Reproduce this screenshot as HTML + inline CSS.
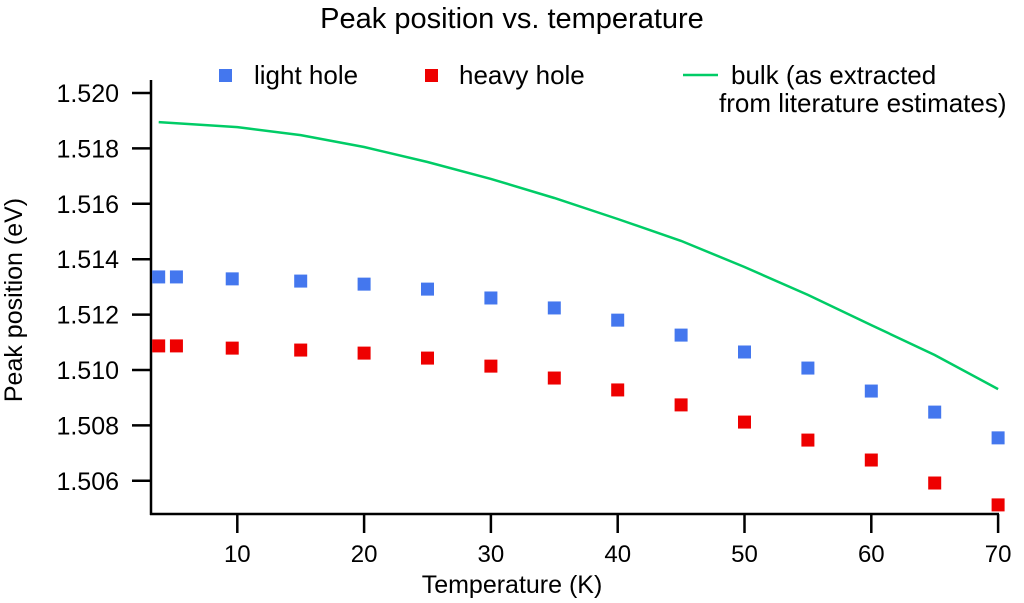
<!DOCTYPE html>
<html><head><meta charset="utf-8"><style>
body{margin:0;background:#fff;}
svg{display:block;font-family:"Liberation Sans",Arial,sans-serif;}
</style></head><body>
<svg id="chart" width="1024" height="603" xmlns="http://www.w3.org/2000/svg">
<text x="512" y="28" font-size="29" text-anchor="middle">Peak position vs. temperature</text>
<g id="legend">
<rect x="219" y="69" width="13" height="13" fill="#4477ee"/>
<text x="254" y="84" font-size="26">light hole</text>
<rect x="425" y="69" width="13" height="13" fill="#ee0000"/>
<text x="459" y="84" font-size="26">heavy hole</text>
<line x1="683" y1="75" x2="718" y2="75" stroke="#00cc66" stroke-width="2.5"/>
<text x="731" y="84" font-size="26">bulk (as extracted</text>
<text x="719" y="112" font-size="26">from literature estimates)</text>
</g>
<g id="axes"></g>
<g id="marks"></g>
<text x="512" y="593" font-size="25" text-anchor="middle">Temperature (K)</text>
<text transform="translate(22,300) rotate(-90)" font-size="25" text-anchor="middle">Peak position (eV)</text>
</svg>
<script>
const temps = [3.8, 5.2, 9.6, 15, 20, 25, 30, 35, 40, 45, 50, 55, 60, 65, 70];
const lightHole = [1.51336, 1.51336, 1.51329, 1.51321, 1.5131, 1.51292, 1.5126, 1.51224, 1.5118, 1.51126, 1.51065, 1.51007, 1.50924, 1.50848, 1.50755];
const heavyHole = [1.51087, 1.51087, 1.51079, 1.51072, 1.51061, 1.51043, 1.51014, 1.50971, 1.50928, 1.50874, 1.50812, 1.50747, 1.50675, 1.50592, 1.50513];
const bulkT = [3.8, 10, 15, 20, 25, 30, 35, 40, 45, 50, 55, 60, 65, 70];
const bulk = [1.51895, 1.51877, 1.51848, 1.51805, 1.51751, 1.5169, 1.51621, 1.51545, 1.51466, 1.51372, 1.51271, 1.51162, 1.51054, 1.50931];
const xTicks = [10, 20, 30, 40, 50, 60, 70];
const yTicks = [1.506, 1.508, 1.510, 1.512, 1.514, 1.516, 1.518, 1.520];

const NS = "http://www.w3.org/2000/svg";
const X0 = 151, X1 = 998, Y0 = 514, Y1 = 93;
function xs(t){ return 110.5 + t * 12.68; }
function ys(v){ return 370 - (v - 1.510) * 27700; }
function mk(tag, attrs, parent){ const e = document.createElementNS(NS, tag); for (const k in attrs) e.setAttribute(k, attrs[k]); parent.appendChild(e); return e; }
const axes = document.getElementById('axes');
const marks = document.getElementById('marks');
let e = mk('line', {x1: X0, y1: 80, x2: X0, y2: Y0 + 1, stroke: '#000', 'stroke-width': 2.5}, axes);


e = mk('line', {x1: X0 - 1, y1: Y0, x2: X1 + 1, y2: Y0, stroke: '#000', 'stroke-width': 2.5}, axes);


xTicks.forEach(t => {
  const x = xs(t);
  let l = mk('line', {x1: x, y1: Y0, x2: x, y2: Y0 + 19, stroke: '#000', 'stroke-width': 2.5}, axes);
  
  
  let tx = mk('text', {x: x, y: Y0 + 48, 'font-size': 24, 'text-anchor': 'middle'}, axes);
  tx.textContent = t;
  
  
});
yTicks.forEach(v => {
  const y = ys(v);
  let l = mk('line', {x1: X0 - 19, y1: y, x2: X0, y2: y, stroke: '#000', 'stroke-width': 2.5}, axes);
  
  
  let tx = mk('text', {x: 119, y: y + 9, 'font-size': 25, 'text-anchor': 'end'}, axes);
  tx.textContent = v.toFixed(3);
  
  
});
const pts = bulkT.map((t, i) => xs(t).toFixed(1) + ',' + ys(bulk[i]).toFixed(1)).join(' ');
let pl = mk('polyline', {points: pts, fill: 'none', stroke: '#00cc66', 'stroke-width': 2.5}, marks);


temps.forEach((t, i) => {
  let r = mk('rect', {x: xs(t) - 6.5, y: ys(lightHole[i]) - 6.5, width: 13, height: 13, fill: '#4477ee'}, marks);
  
  
  let r2 = mk('rect', {x: xs(t) - 6.5, y: ys(heavyHole[i]) - 6.5, width: 13, height: 13, fill: '#ee0000'}, marks);
  
  
});
</script>
</body></html>
